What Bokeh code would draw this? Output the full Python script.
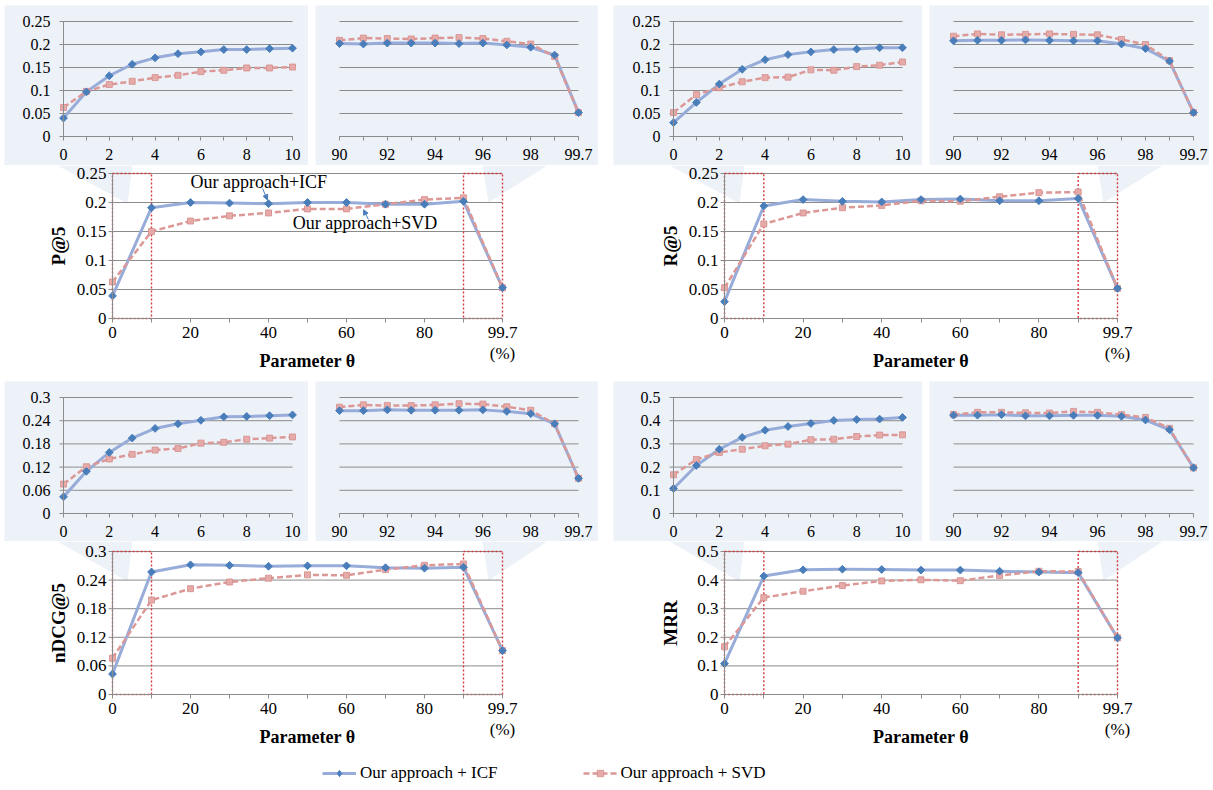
import math
from bokeh.plotting import figure
from bokeh.layouts import row, column
from bokeh.models import (Range1d, FixedTicker, PolyAnnotation, Label,
                          Arrow, NormalHead, Legend, LegendItem, Spacer)
from bokeh.embed import file_html
from bokeh.resources import INLINE

# ---------------- data ----------------
low_labels = ["0", "1", "2", "3", "4", "5", "6", "7", "8", "9", "10"]
high_labels = ["90", "91", "92", "93", "94", "95", "96", "97", "98", "99", "99.7"]
main_labels = ["0", "10", "20", "30", "40", "50", "60", "70", "80", "90", "99.7"]
low_shown = ["0", "2", "4", "6", "8", "10"]
high_shown = ["90", "92", "94", "96", "98", "99.7"]
main_shown = ["0", "20", "40", "60", "80", "99.7"]
unit_label = "(%)"
x_title = "Parameter θ"

p5_ticks = [0, 0.05, 0.1, 0.15, 0.2, 0.25]
p5_tick_labels = ["0", "0.05", "0.1", "0.15", "0.2", "0.25"]
r5_ticks = [0, 0.05, 0.1, 0.15, 0.2, 0.25]
r5_tick_labels = ["0", "0.05", "0.1", "0.15", "0.2", "0.25"]
n5_ticks = [0, 0.06, 0.12, 0.18, 0.24, 0.3]
n5_tick_labels = ["0", "0.06", "0.12", "0.18", "0.24", "0.3"]
mrr_ticks = [0, 0.1, 0.2, 0.3, 0.4, 0.5]
mrr_tick_labels = ["0", "0.1", "0.2", "0.3", "0.4", "0.5"]

# P@5
p5_icf_low = [0.040, 0.097, 0.132, 0.157, 0.171, 0.180, 0.184, 0.189, 0.189, 0.191, 0.192]
p5_svd_low = [0.063, 0.098, 0.113, 0.120, 0.128, 0.133, 0.141, 0.144, 0.149, 0.149, 0.151]
p5_icf_high = [0.202, 0.201, 0.203, 0.203, 0.203, 0.202, 0.203, 0.199, 0.194, 0.177, 0.052]
p5_svd_high = [0.209, 0.214, 0.213, 0.212, 0.214, 0.215, 0.213, 0.207, 0.201, 0.174, 0.052]
p5_icf_main = [0.039, 0.191, 0.200, 0.199, 0.198, 0.200, 0.200, 0.197, 0.197, 0.202, 0.053]
p5_svd_main = [0.063, 0.150, 0.168, 0.177, 0.182, 0.189, 0.189, 0.197, 0.205, 0.208, 0.053]

# R@5
r5_icf_low = [0.030, 0.074, 0.114, 0.146, 0.167, 0.178, 0.184, 0.189, 0.190, 0.193, 0.193]
r5_svd_low = [0.052, 0.091, 0.106, 0.119, 0.128, 0.129, 0.145, 0.144, 0.152, 0.155, 0.162]
r5_icf_high = [0.208, 0.209, 0.209, 0.210, 0.209, 0.208, 0.208, 0.201, 0.191, 0.164, 0.052]
r5_svd_high = [0.218, 0.223, 0.221, 0.222, 0.223, 0.222, 0.221, 0.211, 0.200, 0.165, 0.052]
r5_icf_main = [0.029, 0.194, 0.205, 0.202, 0.201, 0.205, 0.206, 0.203, 0.203, 0.207, 0.052]
r5_svd_main = [0.053, 0.163, 0.182, 0.191, 0.195, 0.203, 0.202, 0.210, 0.217, 0.218, 0.052]

# nDCG@5
n5_icf_low = [0.043, 0.109, 0.158, 0.195, 0.220, 0.232, 0.241, 0.250, 0.251, 0.253, 0.255]
n5_svd_low = [0.076, 0.121, 0.141, 0.153, 0.164, 0.168, 0.182, 0.184, 0.192, 0.195, 0.198]
n5_icf_high = [0.266, 0.266, 0.268, 0.267, 0.267, 0.267, 0.268, 0.264, 0.258, 0.232, 0.091]
n5_svd_high = [0.275, 0.281, 0.279, 0.279, 0.281, 0.284, 0.283, 0.276, 0.267, 0.232, 0.091]
n5_icf_main = [0.043, 0.257, 0.272, 0.271, 0.269, 0.270, 0.270, 0.266, 0.265, 0.267, 0.092]
n5_svd_main = [0.076, 0.198, 0.222, 0.236, 0.244, 0.251, 0.250, 0.262, 0.271, 0.274, 0.092]

# MRR
mrr_icf_low = [0.108, 0.207, 0.277, 0.328, 0.359, 0.375, 0.388, 0.401, 0.405, 0.407, 0.414]
mrr_svd_low = [0.167, 0.233, 0.263, 0.277, 0.292, 0.299, 0.318, 0.320, 0.332, 0.338, 0.339]
mrr_icf_high = [0.424, 0.424, 0.426, 0.421, 0.421, 0.423, 0.423, 0.419, 0.403, 0.361, 0.197]
mrr_svd_high = [0.427, 0.436, 0.436, 0.434, 0.433, 0.440, 0.436, 0.426, 0.414, 0.367, 0.197]
mrr_icf_main = [0.108, 0.414, 0.436, 0.438, 0.437, 0.435, 0.435, 0.431, 0.428, 0.426, 0.198]
mrr_svd_main = [0.167, 0.339, 0.361, 0.381, 0.397, 0.401, 0.398, 0.416, 0.431, 0.430, 0.198]

series_names = ["Our approach + ICF", "Our approach + SVD"]
note_names = ["Our approach+ICF", "Our approach+SVD"]

# ---------------- style / layout ----------------
FONT = "Liberation Serif"
BG = "#EDF2F8"
GRID = "#8C8C8C"
AXIS = "#8C8C8C"
BLUE_LINE = "#97ACD9"
BLUE_MARK = "#4A7EBB"
PINK_LINE = "#DC9896"
PINK_FILL = "#E6AAA8"
PINK_EDGE = "#D48E8C"
RED_BOX = "#D33A3F"
LEFT0 = 4
TOP0 = 5

COLS = [
    dict(x0=4, lin_x1=308, lin_i0=63, lin_i10=292, rin_x0=315, rin_x1=598,
         rin_i0=339, rin_i10=578, x1=613, m_i0=112, m_i10=502),
    dict(x0=613, lin_x1=922, lin_i0=673, lin_i10=902, rin_x0=929, rin_x1=1209,
         rin_i0=953, rin_i10=1193, x1=1209, m_i0=724, m_i10=1117),
]
ROWS = [
    dict(in_y0=5, in_top=21, in_bot=136, in_y1=165, m_top=173, m_bot=318, m_y1=381),
    dict(in_y0=381, in_top=397, in_bot=513, in_y1=541, m_top=551, m_bot=694, m_y1=754),
]
LEGEND_Y0, LEGEND_Y1 = 754, 788


def add_series(p, x, icf, svd):
    p.line(x, icf, line_color=BLUE_LINE, line_width=3, line_join="round")
    p.line(x, svd, line_color=PINK_LINE, line_width=2.5, line_dash="6 3")
    p.scatter(x, svd, marker="square", size=6, fill_color=PINK_FILL,
              line_color=PINK_EDGE, line_width=0.8)
    p.scatter(x, icf, marker="square", angle=math.pi / 4, size=5.5,
              fill_color=BLUE_MARK, line_color=BLUE_MARK)


def base_chart(x0, x1, y0, y1, i0, i10, ytop, ybot, ymax, xlabels, shown, yticks,
               ylabels, show_y, bg, tick_fs, xstand, ystand):
    """Figure whose frame fills the whole canvas; axes are pinned at x=0 / y=0."""
    last = len(xlabels) - 1
    ppu = (i10 - i0) / last
    ppy = (ybot - ytop) / ymax
    xr = Range1d(-(i0 - x0) / ppu, last + (x1 - i10) / ppu)
    yr = Range1d(-(y1 - ybot) / ppy, ymax + (ytop - y0) / ppy)
    p = figure(width=x1 - x0, height=y1 - y0, min_border_left=0, min_border_right=0,
               min_border_top=0, min_border_bottom=0, x_range=xr, y_range=yr,
               y_axis_location="left" if show_y else None,
               background_fill_color=bg, border_fill_color=bg,
               outline_line_color=None, toolbar_location=None, output_backend="svg")
    p.xgrid.visible = False
    p.ygrid.visible = False
    xs = list(range(len(xlabels)))

    ax = p.xaxis[0]
    ax.fixed_location = yticks[0]
    ax.ticker = FixedTicker(ticks=xs)
    ax.major_label_overrides = {i: (lab if lab in shown else "") for i, lab in enumerate(xlabels)}
    ax.bounds = (xs[0], xs[-1])
    ax.axis_line_color = AXIS
    ax.major_tick_line_color = AXIS
    ax.major_tick_out = 4
    ax.major_tick_in = 0
    ax.minor_tick_line_color = None
    ax.minor_tick_out = 0
    ax.minor_tick_in = 0
    ax.major_label_text_font = FONT
    ax.major_label_text_font_size = tick_fs
    ax.major_label_text_color = "black"
    ax.major_label_standoff = xstand

    if show_y:
        ay = p.yaxis[0]
        ay.fixed_location = xs[0]
        ay.ticker = FixedTicker(ticks=yticks)
        ay.major_label_overrides = {t: l for t, l in zip(yticks, ylabels)}
        ay.bounds = (yticks[0], yticks[-1])
        ay.axis_line_color = AXIS
        ay.major_tick_line_color = None
        ay.major_tick_out = 0
        ay.major_tick_in = 0
        ay.minor_tick_line_color = None
        ay.minor_tick_out = 0
        ay.minor_tick_in = 0
        ay.major_label_text_font = FONT
        ay.major_label_text_font_size = tick_fs
        ay.major_label_text_color = "black"
        ay.major_label_standoff = ystand
        gx0 = xs[0] - 4 / ppu
    else:
        gx0 = xs[0]
    p.segment(x0=[gx0] * len(yticks), y0=yticks, x1=[xs[-1]] * len(yticks), y1=yticks,
              line_color=GRID, line_width=1)
    return p, xs, ppu, ppy


def make_main(c, r, ymax, yticks, ylabels, ylabel, ylabel_standoff, icf, svd, notes):
    x0, y0 = c["x0"], r["in_y1"]
    p, xs, ppu, ppy = base_chart(x0, c["x1"], y0, r["m_y1"], c["m_i0"], c["m_i10"],
                                 r["m_top"], r["m_bot"], ymax, main_labels, main_shown,
                                 yticks, ylabels, True, "white", "17px", 4, 6)

    # callout wedges (canvas pixels of this figure), drawn beneath everything
    depth = r["m_top"] - y0
    lw = [(c["m_i0"] - 55 - x0, 0), (c["m_i0"] + 20 - x0, 0), (c["m_i0"] + 15 - x0, depth + 30)]
    rw = [(c["m_i10"] - 20 - x0, 0), (c["m_i10"] + 45 - x0, 0), (c["m_i10"] - 14 - x0, depth + 29)]
    for pts in (lw, rw):
        p.add_layout(PolyAnnotation(xs=[a for a, b in pts], ys=[b for a, b in pts],
                                    xs_units="canvas", ys_units="canvas",
                                    fill_color=BG, fill_alpha=1.0, line_color=None,
                                    level="image"))

    ax = p.xaxis[0]
    ax.axis_label = x_title
    ax.axis_label_text_font = FONT
    ax.axis_label_text_font_size = "18px"
    ax.axis_label_text_font_style = "bold"
    ax.axis_label_text_color = "black"
    ax.axis_label_standoff = 10

    ay = p.yaxis[0]
    ay.axis_label = ylabel
    ay.axis_label_text_font = FONT
    ay.axis_label_text_font_size = "19px"
    ay.axis_label_text_font_style = "bold"
    ay.axis_label_text_color = "black"
    ay.axis_label_standoff = ylabel_standoff

    p.quad(left=[xs[0], xs[-2]], right=[xs[1], xs[-1]], bottom=[0, 0], top=[ymax, ymax],
           fill_color=None, line_color=RED_BOX, line_width=1.4, line_dash="2 2")
    add_series(p, xs, icf, svd)

    p.add_layout(Label(x=xs[-1], y=-35 / ppy, text=unit_label, text_font=FONT,
                       text_font_size="17px", text_align="center", text_baseline="middle",
                       text_color="black"))
    if notes:
        p.add_layout(Label(x=2.0, y=0.2345, text=note_names[0], text_font=FONT,
                           text_font_size="18px", text_align="left", text_baseline="middle",
                           text_color="black"))
        p.add_layout(Label(x=4.62, y=0.1638, text=note_names[1], text_font=FONT,
                           text_font_size="18px", text_align="left", text_baseline="middle",
                           text_color="black"))
        p.add_layout(Arrow(end=NormalHead(size=5, fill_color=BLUE_MARK, line_color=BLUE_MARK),
                           x_start=3.85, y_start=0.224, x_end=3.97, y_end=0.2045,
                           line_color=BLUE_MARK, line_width=1))
        p.add_layout(Arrow(end=NormalHead(size=5, fill_color=BLUE_MARK, line_color=BLUE_MARK),
                           x_start=6.56, y_start=0.1707, x_end=6.44, y_end=0.1875,
                           line_color=BLUE_MARK, line_width=1))
    return p


def make_panel(ci, ri, ylabel, ymax, yticks, ylabels, icf_low, svd_low, icf_high,
               svd_high, icf_main, svd_main, ylabel_standoff, notes=False):
    c = COLS[ci]
    r = ROWS[ri]
    pl, xl, _, _ = base_chart(c["x0"], c["lin_x1"], r["in_y0"], r["in_y1"], c["lin_i0"],
                              c["lin_i10"], r["in_top"], r["in_bot"], ymax, low_labels,
                              low_shown, yticks, ylabels, True, BG, "16px", 8, 13)
    add_series(pl, xl, icf_low, svd_low)
    pr, xh, _, _ = base_chart(c["rin_x0"], c["rin_x1"], r["in_y0"], r["in_y1"], c["rin_i0"],
                              c["rin_i10"], r["in_top"], r["in_bot"], ymax, high_labels,
                              high_shown, yticks, ylabels, False, BG, "16px", 8, 13)
    add_series(pr, xh, icf_high, svd_high)
    pm = make_main(c, r, ymax, yticks, ylabels, ylabel, ylabel_standoff, icf_main, svd_main, notes)

    in_h = r["in_y1"] - r["in_y0"]
    gap = c["rin_x0"] - c["lin_x1"]
    tail = c["x1"] - c["rin_x1"]
    top_children = [pl, Spacer(width=gap, height=in_h), pr]
    if tail > 0:
        top_children.append(Spacer(width=tail, height=in_h))
    return column(row(*top_children), pm)


panel1 = make_panel(0, 0, "P@5", 0.25, p5_ticks, p5_tick_labels, p5_icf_low, p5_svd_low,
                    p5_icf_high, p5_svd_high, p5_icf_main, p5_svd_main, 5, notes=True)
panel2 = make_panel(1, 0, "R@5", 0.25, r5_ticks, r5_tick_labels, r5_icf_low, r5_svd_low,
                    r5_icf_high, r5_svd_high, r5_icf_main, r5_svd_main, 5)
panel3 = make_panel(0, 1, "nDCG@5", 0.3, n5_ticks, n5_tick_labels, n5_icf_low, n5_svd_low,
                    n5_icf_high, n5_svd_high, n5_icf_main, n5_svd_main, 5)
panel4 = make_panel(1, 1, "MRR", 0.5, mrr_ticks, mrr_tick_labels, mrr_icf_low, mrr_svd_low,
                    mrr_icf_high, mrr_svd_high, mrr_icf_main, mrr_svd_main, 13)

# legend strip: proxy renderers use real data, kept outside the strip's visible range
leg_w = COLS[1]["x1"] - COLS[0]["x0"]
lf = figure(width=leg_w, height=LEGEND_Y1 - LEGEND_Y0, x_range=Range1d(0, 1),
            y_range=Range1d(-2, -1), x_axis_location=None, y_axis_location=None,
            min_border_left=0, min_border_right=0, min_border_top=0, min_border_bottom=0,
            outline_line_color=None, toolbar_location=None, output_backend="svg")
lf.grid.visible = False
xm_all = list(range(len(main_labels)))
r1l = lf.line(xm_all, p5_icf_main, line_color=BLUE_LINE, line_width=3)
r1m = lf.scatter(xm_all, p5_icf_main, marker="diamond", size=9,
                 fill_color=BLUE_MARK, line_color=BLUE_MARK)
r2l = lf.line(xm_all, p5_svd_main, line_color=PINK_LINE, line_width=2.5, line_dash="6 3")
r2m = lf.scatter(xm_all, p5_svd_main, marker="square", size=6, fill_color=PINK_FILL,
                 line_color=PINK_EDGE, line_width=0.8)
leg = Legend(items=[LegendItem(label=series_names[0], renderers=[r1l, r1m]),
                    LegendItem(label=series_names[1], renderers=[r2l, r2m])],
             orientation="horizontal", location=(322 - LEFT0, 5), padding=0, margin=0,
             spacing=85, glyph_width=34, glyph_height=16, label_height=16,
             label_standoff=4, label_text_font=FONT, label_text_font_size="17px",
             label_text_color="black", border_line_color=None, background_fill_alpha=0)
lf.add_layout(leg)

body = column(row(panel1, panel2), row(panel3, panel4), lf)
layout = column(Spacer(width=10, height=TOP0), row(Spacer(width=LEFT0, height=10), body))

open("out.html", "w").write(file_html(layout, INLINE))
